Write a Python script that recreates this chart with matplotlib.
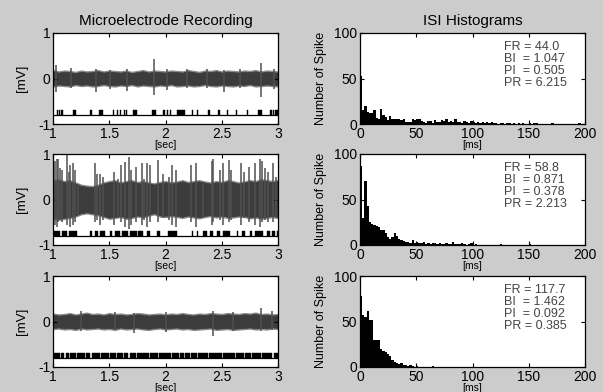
import numpy as np
import matplotlib
matplotlib.use("Agg")
import matplotlib.pyplot as plt

plt.rcParams['font.family'] = ['Liberation Sans', 'DejaVu Sans']

# ---- recording traces: envelope of the noise band, read every 0.05 s ----
t_env = np.linspace(1, 3, 41)

up1 = [0.16, 0.13, 0.15, 0.14, 0.12, 0.15, 0.13, 0.14, 0.16, 0.13, 0.15, 0.14, 0.13, 0.15,
       0.12, 0.14, 0.16, 0.13, 0.15, 0.14, 0.13, 0.15, 0.14, 0.13, 0.16, 0.14, 0.12, 0.15,
       0.14, 0.16, 0.13, 0.15, 0.14, 0.13, 0.15, 0.14, 0.16, 0.13, 0.15, 0.14, 0.13]
lo1 = [-0.15, -0.13, -0.14, -0.15, -0.12, -0.14, -0.13, -0.15, -0.14, -0.12, -0.14, -0.15,
       -0.13, -0.14, -0.12, -0.15, -0.13, -0.14, -0.15, -0.13, -0.14, -0.12, -0.15, -0.14,
       -0.13, -0.15, -0.14, -0.12, -0.14, -0.15, -0.13, -0.14, -0.15, -0.13, -0.14, -0.12,
       -0.15, -0.14, -0.13, -0.14, -0.15]

up2 = [0.40, 0.42, 0.38, 0.40, 0.35, 0.30, 0.28, 0.27, 0.30, 0.35, 0.38, 0.40, 0.35, 0.38,
       0.40, 0.36, 0.38, 0.35, 0.33, 0.36, 0.38, 0.35, 0.37, 0.40, 0.36, 0.38, 0.40, 0.37,
       0.35, 0.38, 0.36, 0.40, 0.38, 0.35, 0.37, 0.40, 0.38, 0.42, 0.40, 0.38, 0.40]
lo2 = [-0.40, -0.42, -0.40, -0.38, -0.35, -0.30, -0.28, -0.30, -0.32, -0.36, -0.40, -0.38,
       -0.36, -0.40, -0.38, -0.35, -0.37, -0.33, -0.30, -0.35, -0.36, -0.34, -0.36, -0.38,
       -0.35, -0.37, -0.39, -0.36, -0.34, -0.37, -0.35, -0.38, -0.37, -0.35, -0.36, -0.39,
       -0.37, -0.40, -0.38, -0.36, -0.38]

up3 = [0.15, 0.13, 0.14, 0.16, 0.13, 0.15, 0.17, 0.14, 0.15, 0.13, 0.16, 0.14, 0.15, 0.13,
       0.14, 0.16, 0.15, 0.13, 0.14, 0.15, 0.13, 0.15, 0.14, 0.16, 0.14, 0.13, 0.15, 0.14,
       0.16, 0.15, 0.14, 0.16, 0.15, 0.14, 0.16, 0.15, 0.17, 0.14, 0.15, 0.13, 0.14]
lo3 = [-0.14, -0.13, -0.15, -0.14, -0.16, -0.13, -0.15, -0.14, -0.13, -0.15, -0.14, -0.16,
       -0.13, -0.15, -0.14, -0.13, -0.15, -0.16, -0.14, -0.13, -0.15, -0.14, -0.13, -0.15,
       -0.14, -0.16, -0.15, -0.14, -0.13, -0.16, -0.15, -0.14, -0.16, -0.15, -0.14, -0.13,
       -0.15, -0.14, -0.15, -0.13, -0.14]

# ---- spikes sticking out of the band: time [s], top [mV], bottom [mV] ----
spk1_t = [1.024, 1.163, 1.386, 1.505, 1.654, 1.897, 2.01, 2.19, 2.367, 2.516, 2.664, 2.851, 2.96]
spk1_hi = [0.30, 0.22, 0.20, 0.18, 0.20, 0.42, 0.20, 0.20, 0.20, 0.18, 0.20, 0.35, 0.20]
spk1_lo = [-0.30, -0.20, -0.30, -0.22, -0.27, -0.37, -0.25, -0.20, -0.20, -0.30, -0.20, -0.40, -0.22]

spk2_t = [1.02, 1.035, 1.047, 1.06, 1.077, 1.127, 1.14, 1.151, 1.181, 1.196, 1.225, 1.373,
          1.39, 1.418, 1.447, 1.545, 1.58, 1.601, 1.637, 1.673, 1.693, 1.738, 1.788, 1.81,
          1.833, 1.862, 1.936, 1.981, 2.028, 2.06, 2.09, 2.23, 2.274, 2.333, 2.41, 2.425,
          2.48, 2.51, 2.564, 2.585, 2.674, 2.70, 2.742, 2.793, 2.837, 2.86, 2.88, 2.911,
          2.956, 2.98]
spk2_hi = [0.85, 0.90, 0.88, 0.70, 0.65, 1.00, 0.60, 0.75, 0.80, 0.65, 0.35, 0.80,
           0.55, 0.57, 0.50, 0.60, 0.45, 0.75, 0.83, 0.94, 0.65, 0.72, 0.80, 0.45,
           0.80, 0.75, 0.87, 0.57, 0.50, 0.75, 0.65, 0.75, 0.80, 0.35, 0.85, 0.90,
           0.65, 0.80, 0.87, 0.65, 0.80, 0.60, 0.72, 0.80, 0.90, 0.85, 0.70, 0.60,
           0.80, 0.50]
spk2_lo = [-0.55, -0.60, -0.50, -0.45, -0.50, -0.55, -0.40, -0.60, -0.55, -0.50, -0.35, -0.50,
           -0.45, -0.55, -0.45, -0.55, -0.40, -0.50, -0.60, -0.65, -0.55, -0.50, -0.55, -0.45,
           -0.60, -0.50, -0.50, -0.40, -0.45, -0.55, -0.60, -0.50, -0.60, -0.40, -0.55, -0.50,
           -0.45, -0.55, -0.50, -0.45, -0.55, -0.40, -0.50, -0.55, -0.60, -0.50, -0.45, -0.50,
           -0.50, -0.40]

spk3_t = [1.25, 1.55, 1.72, 2.0, 2.42, 2.6, 2.85, 2.95]
spk3_hi = [0.22, 0.20, 0.18, 0.20, 0.22, 0.20, 0.29, 0.22]
spk3_lo = [-0.20, -0.18, -0.25, -0.22, -0.32, -0.20, -0.20, -0.18]

# ---- detected spike raster: (start, end) in s, single spikes have start == end ----
raster1 = [(1.036, 1.036), (1.053, 1.053), (1.074, 1.074), (1.178, 1.208), (1.333, 1.333),
           (1.407, 1.44), (1.535, 1.535), (1.571, 1.571), (1.594, 1.594), (1.63, 1.63),
           (1.648, 1.648), (1.707, 1.743), (1.877, 1.915), (1.981, 1.981), (2.01, 2.01),
           (2.04, 2.04), (2.10, 2.174), (2.233, 2.233), (2.278, 2.278), (2.382, 2.382),
           (2.471, 2.471), (2.545, 2.545), (2.628, 2.628), (2.724, 2.724), (2.822, 2.857),
           (2.932, 2.932), (2.955, 2.955), (2.976, 2.976), (2.991, 2.991)]
raster2 = [(1.003, 1.062), (1.077, 1.121), (1.145, 1.21), (1.329, 1.344), (1.373, 1.40),
           (1.415, 1.462), (1.507, 1.521), (1.551, 1.596), (1.61, 1.67), (1.684, 1.744),
           (1.759, 1.803), (1.833, 1.862), (1.921, 1.951), (2.025, 2.099), (2.233, 2.247),
           (2.277, 2.292), (2.336, 2.366), (2.396, 2.425), (2.455, 2.484), (2.514, 2.573),
           (2.633, 2.647), (2.677, 2.707), (2.751, 2.766), (2.796, 2.87), (2.899, 2.929),
           (2.944, 2.973), (2.988, 3.0)]
raster3 = [(1.0, 1.06), (1.07, 1.10), (1.115, 1.14), (1.155, 1.2), (1.21, 1.28), (1.29, 1.33),
           (1.345, 1.42), (1.43, 1.5), (1.51, 1.56), (1.57, 1.62), (1.63, 1.67), (1.68, 1.74),
           (1.75, 1.85), (1.86, 1.93), (1.94, 2.05), (2.06, 2.12), (2.13, 2.16), (2.17, 2.22),
           (2.23, 2.28), (2.29, 2.38), (2.39, 2.5), (2.51, 2.62), (2.63, 2.7), (2.71, 2.76),
           (2.77, 2.85), (2.86, 2.95), (2.96, 3.0)]

# ---- ISI histograms, 2 ms bins from 0 to 200 ms ----
isi1 = [53, 15, 20, 13, 12, 12, 15, 7, 5, 17, 10, 8, 4, 9, 5, 5, 5, 5, 4, 5,
        2, 2, 2, 5, 4, 5, 6, 3, 2, 1, 3, 3, 1, 4, 2, 2, 4, 3, 5, 2,
        3, 2, 5, 2, 2, 1, 3, 2, 1, 3, 2, 1, 2, 1, 2, 1, 2, 1, 2, 1,
        1, 0, 1, 1, 0, 1, 1, 0, 1, 0, 1, 0, 1, 0, 0, 1, 0, 1, 1, 0,
        0, 0, 0, 0, 0, 1, 0, 0, 0, 0, 0, 0, 0, 0, 0, 0, 0, 1, 0, 0]
isi2 = [87, 30, 70, 43, 25, 23, 22, 21, 20, 17, 16, 13, 9, 7, 9, 13, 10, 7, 5, 4,
        3, 3, 2, 5, 2, 3, 2, 2, 3, 1, 2, 1, 2, 2, 1, 2, 1, 1, 2, 1,
        1, 3, 1, 1, 1, 2, 1, 0, 1, 2, 0, 1, 0, 0, 0, 0, 0, 0, 0, 0,
        0, 0, 1, 0, 0, 0, 0, 0, 0, 0, 0, 0, 0, 0, 0, 1, 0, 0, 0, 0,
        0, 0, 0, 0, 0, 0, 0, 0, 0, 0, 0, 0, 0, 0, 0, 0, 0, 0, 0, 0]
isi3 = [78, 57, 55, 62, 52, 52, 30, 30, 30, 20, 18, 17, 14, 12, 8, 5, 4, 3, 4, 2,
        2, 1, 2, 1, 0, 1, 0, 0, 0, 0, 0, 0, 1, 0, 0, 0, 0, 0, 0, 0,
        0, 0, 0, 0, 0, 0, 0, 0, 0, 0, 0, 0, 0, 0, 0, 0, 0, 0, 0, 0,
        0, 0, 0, 0, 0, 0, 0, 0, 0, 0, 0, 0, 0, 0, 0, 0, 0, 0, 0, 0,
        0, 0, 0, 0, 0, 0, 0, 0, 0, 0, 0, 0, 0, 0, 0, 0, 0, 0, 0, 0]

stats = [("44.0", "1.047", "0.505", "6.215"),
         ("58.8", "0.871", "0.378", "2.213"),
         ("117.7", "1.462", "0.092", "0.385")]

traces = [(up1, lo1, spk1_t, spk1_hi, spk1_lo, raster1),
          (up2, lo2, spk2_t, spk2_hi, spk2_lo, raster2),
          (up3, lo3, spk3_t, spk3_hi, spk3_lo, raster3)]
hists = [isi1, isi2, isi3]

W, H = 603, 392
fig = plt.figure(figsize=(W / 100, H / 100), dpi=100, facecolor='#cccccc')

trace_col = '#3c3c3c'
fuzz_col = '#8c8c8c'
rows_top = [33, 154, 276]  # pixel top of each row of axes
row_h = 91


def px_axes(x0, y0, w, h):
    return fig.add_axes([x0 / W, 1 - (y0 + h) / H, w / W, h / H])


def matlab_style(ax):
    ax.tick_params(direction='in', length=3, width=0.8, top=True, right=True,
                   labelsize=10, pad=2)
    for s in ax.spines.values():
        s.set_linewidth(0.9)


for i in range(3):
    up, lo, st, shi, slo, rast = traces[i]

    # left: microelectrode recording
    ax = px_axes(53, rows_top[i], 225, row_h)
    ax.fill_between(t_env, np.array(lo) - 0.04, np.array(up) + 0.04, color=fuzz_col, lw=0)
    ax.fill_between(t_env, lo, up, color=trace_col, lw=0.6)
    ax.vlines(st, slo, shi, color='#505050', lw=1.1)
    starts = np.array([r[0] for r in rast])
    ends = np.array([r[1] for r in rast])
    widths = np.maximum(ends - starts, 0.011)
    ax.broken_barh(list(zip(starts, widths)), (-0.81, 0.11), facecolor='black',
                   edgecolor='black', lw=0.3)
    ax.axhline(-0.81, color='black', lw=0.9)
    ax.set_xlim(1, 3)
    ax.set_ylim(-1, 1)
    ax.set_xticks([1, 1.5, 2, 2.5, 3])
    ax.set_xticklabels(['1', '1.5', '2', '2.5', '3'])
    ax.set_yticks([-1, 0, 1])
    ax.set_yticklabels(['-1', '0', '1'])
    matlab_style(ax)
    ax.set_ylabel('[mV]', fontsize=9.5, labelpad=7)
    ax.set_xlabel('[sec]', fontsize=7.5, labelpad=-0.5)
    if i == 0:
        ax.set_title('Microelectrode Recording', fontsize=11, pad=6)

    # right: ISI histogram
    ax = px_axes(360, rows_top[i], 225, row_h)
    edges = np.arange(0, 200, 2)
    ax.bar(edges, hists[i], width=2, align='edge', color='black', lw=0)
    ax.set_xlim(0, 200)
    ax.set_ylim(0, 100)
    ax.set_xticks([0, 50, 100, 150, 200])
    ax.set_yticks([0, 50, 100])
    matlab_style(ax)
    ax.set_ylabel('Number of Spike', fontsize=9, labelpad=5)
    ax.set_xlabel('[ms]', fontsize=7.5, labelpad=-0.5)
    if i == 0:
        ax.set_title('ISI Histograms', fontsize=11, pad=6)
    fr, bi, pi_, pr = stats[i]
    lines = ['FR = ' + fr, 'BI  = ' + bi, 'PI  = ' + pi_, 'PR = ' + pr]
    for k, s in enumerate(lines):
        ax.text(0.64, 0.91 - k * 0.13, s, transform=ax.transAxes, fontsize=9,
                color='#444444', va='top', ha='left')

fig.savefig('out.png', dpi=100, facecolor=fig.get_facecolor())
